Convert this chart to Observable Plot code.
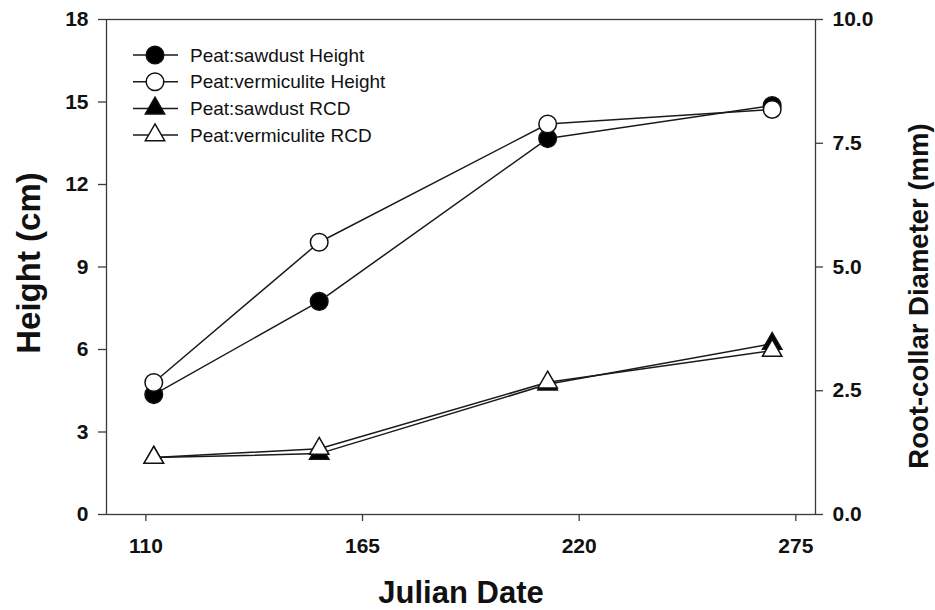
<!DOCTYPE html>
<html>
<head>
<meta charset="utf-8">
<script src="https://cdn.jsdelivr.net/npm/d3@7"></script>
<script src="https://cdn.jsdelivr.net/npm/@observablehq/plot@0.6"></script>
<style>
  html, body { margin: 0; padding: 0; background: #fff; }
  #chart { position: relative; width: 935px; height: 610px; }
</style>
</head>
<body>
<div id="chart"></div>
<script>
// ---- data ----
const dates = [112, 154, 212, 269];
const heightSawdust = [4.36, 7.75, 13.67, 14.87];
const heightVermiculite = [4.8, 9.9, 14.2, 14.73];
const rcdSawdust = [1.15, 1.23, 2.63, 3.45];
const rcdVermiculite = [1.15, 1.33, 2.67, 3.31];
const xTicks = [110, 165, 220, 275];
const heightTicks = [0, 3, 6, 9, 12, 15, 18];
const rcdTicks = [0, 2.5, 5, 7.5, 10];
const seriesNames = ["Peat:sawdust Height", "Peat:vermiculite Height", "Peat:sawdust RCD", "Peat:vermiculite RCD"];
const seriesSymbols = ["circle", "circle", "triangle", "triangle"];
const seriesFills = ["black", "white", "black", "white"];
const xLabel = "Julian Date";
const yLabel = "Height (cm)";
const y2Label = "Root-collar Diameter (mm)";

const heightMax = 18, rcdMax = 10;
const k = heightMax / rcdMax; // map RCD onto the height scale

const seriesValues = [heightSawdust, heightVermiculite, rcdSawdust.map(v => v * k), rcdVermiculite.map(v => v * k)];
const rows = [];
seriesNames.forEach((name, s) => {
  dates.forEach((d, i) => rows.push({series: name, s, date: d, v: seriesValues[s][i]}));
});

const font = "Liberation Sans, Arial, Helvetica, sans-serif";
const ink = "#1a1a1a";
const axisInk = "#3a3a3a";

const marks = [
  Plot.frame({stroke: axisInk, strokeWidth: 1.3}),
  Plot.axisX(xTicks, {anchor: "bottom", tickSize: 7, tickPadding: 17, fontSize: 21, fontWeight: "bold", stroke: axisInk, strokeWidth: 1.3, label: null, fill: "#111"}),
  Plot.axisY(heightTicks, {anchor: "left", tickSize: 8, tickPadding: 10, fontSize: 21, fontWeight: "bold", stroke: axisInk, strokeWidth: 1.3, label: null, fill: "#111"}),
  Plot.axisY(rcdTicks.map(t => t * k), {anchor: "right", tickSize: 7, tickPadding: 10, fontSize: 21, fontWeight: "bold", stroke: axisInk, strokeWidth: 1.3, label: null, fill: "#111", tickFormat: d => (d / k).toFixed(1)}),
  Plot.line(rows, {x: "date", y: "v", z: "series", stroke: ink, strokeWidth: 1.5}),
];
// markers: draw series in order so later (open) markers sit on top
seriesNames.forEach((name, s) => {
  marks.push(Plot.dot(rows.filter(r => r.s === s), {
    x: "date", y: "v", symbol: seriesSymbols[s], fill: seriesFills[s],
    stroke: "#111", strokeWidth: 1.5, r: seriesSymbols[s] === "circle" ? 8.8 : 7.2
  }));
});
marks.push(
  Plot.text([yLabel], {frameAnchor: "left", rotate: -90, dx: -77, dy: -4, fontSize: 33, fontWeight: "bold", textAnchor: "middle", lineAnchor: "middle", fill: "#111"}),
  Plot.text([y2Label], {frameAnchor: "right", rotate: -90, dx: 104, dy: 29, fontSize: 27.5, fontWeight: "bold", textAnchor: "middle", lineAnchor: "middle", fill: "#111"}),
  Plot.text([xLabel], {frameAnchor: "bottom", dy: 79, fontSize: 31, fontWeight: "bold", textAnchor: "middle", lineAnchor: "middle", fill: "#111"})
);

const chart = Plot.plot({
  width: 935,
  height: 610,
  marginLeft: 106,
  marginRight: 120,
  marginTop: 19,
  marginBottom: 96,
  style: {fontFamily: font, background: "#fff", overflow: "visible"},
  x: {domain: [100, 280]},
  y: {domain: [0, heightMax]},
  marks
});
document.getElementById("chart").appendChild(chart);

// ---- legend (inside plot, top-left) ----
const svg = d3.select(chart);
const lg = svg.append("g").attr("font-family", font).attr("font-size", 19).attr("text-anchor", "start");
const legX0 = 133, legX1 = 178, legMid = 155, legText = 190, legY0 = 55, legStep = 26.7;
seriesNames.forEach((name, s) => {
  const y = legY0 + s * legStep;
  const g = lg.append("g");
  g.append("line").attr("x1", legX0).attr("x2", legX1).attr("y1", y).attr("y2", y)
    .attr("stroke", ink).attr("stroke-width", 1.5);
  const sym = seriesSymbols[s] === "circle" ? d3.symbolCircle : d3.symbolTriangle;
  const r = seriesSymbols[s] === "circle" ? 8.8 : 7.2;
  g.append("path").attr("d", d3.symbol(sym, Math.PI * r * r)())
    .attr("transform", `translate(${legMid},${y})`)
    .attr("fill", seriesFills[s]).attr("stroke", "#111").attr("stroke-width", 1.5);
  g.append("text").attr("x", legText).attr("y", y).attr("dy", "0.35em").attr("text-anchor", "start")
    .attr("fill", "#111").text(name);
});
</script>
</body>
</html>
